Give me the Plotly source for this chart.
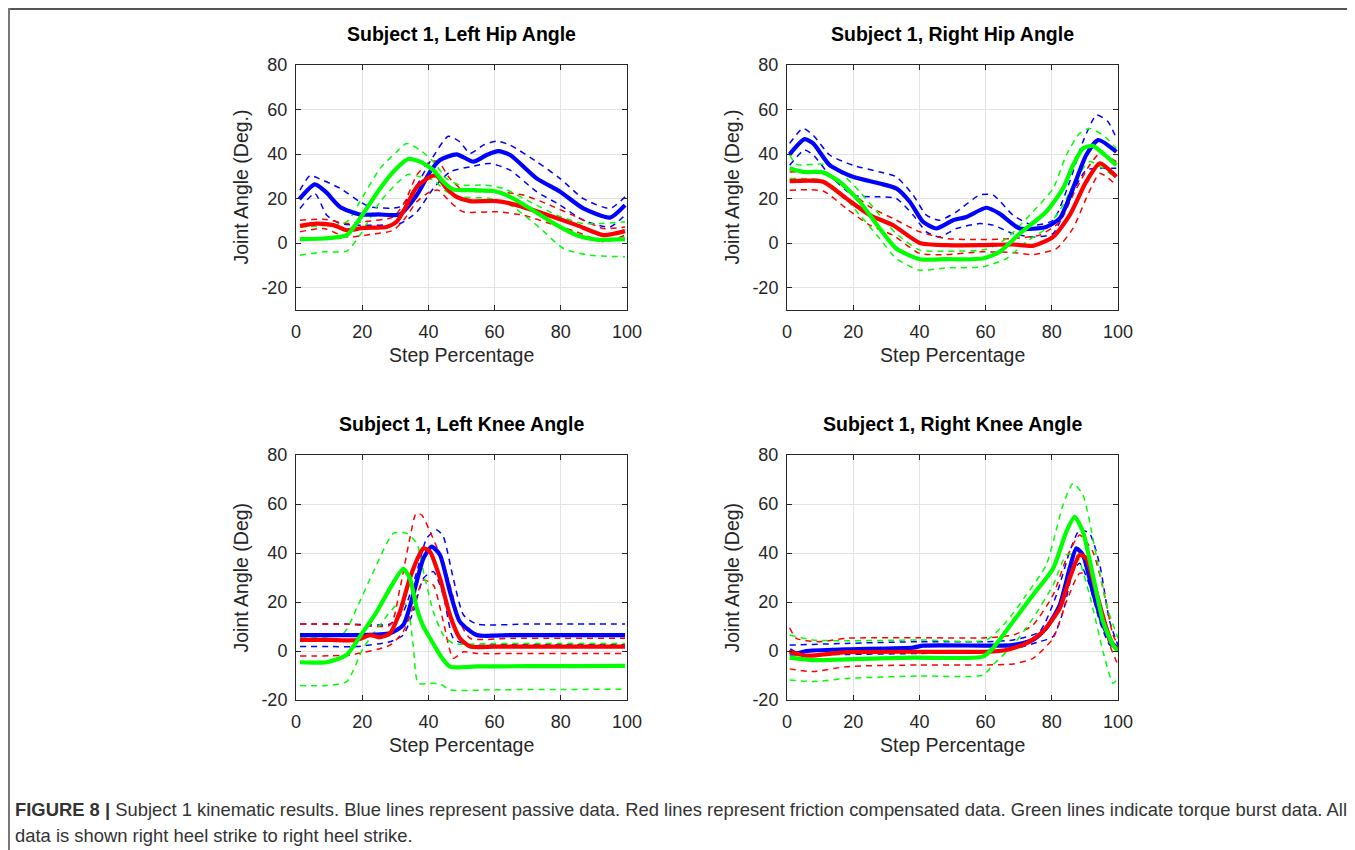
import plotly.graph_objects as go

# ---------------- data (x = step %, y = joint angle, deg) ----------------
# Left hip
LH_BLUE = [(1,19.8),(5.7,26.4),(9,23),(13.3,16.3),(19.3,12.9),(25,12.9),(31.4,12.9),(36.5,21.6),(40.5,32),(43.5,37.3),(48.5,39.9),(53.6,36.6),(57.6,39.6),(61.1,41.3),(64.7,39.6),(72.7,29.1),(79.8,23.1),(86.8,15.6),(94.9,11.5),(99.4,17.1)]
LH_BLUE_HI = [(1.2,23.8),(4.2,30.3),(7,29),(13.3,24.6),(19.3,18.6),(22.4,16.3),(31.4,16.3),(36.5,26),(40.5,36.6),(46,48),(49.5,45.5),(52.6,40.3),(56.6,44),(60.6,45.8),(64.7,44),(72.7,36.6),(79.8,29),(86.8,20),(94.9,15.6),(99.4,20.8)]
LH_BLUE_LO = [(1.2,15.6),(5.7,22.3),(9.3,12.5),(13.3,8.8),(19.3,8.1),(31.4,8.8),(36.5,14),(41.5,24.6),(46.5,32),(52.6,34.3),(58.6,35.8),(64.7,32.8),(72.7,23.1),(79.8,17.1),(86.8,10.3),(94.9,7.3),(99.4,12.6)]
LH_RED = [(1.2,7.8),(6.2,8.8),(11.3,8.1),(15.3,5.8),(20.3,6.9),(27.4,7.3),(30.4,9.6),(32.9,15.6),(36.5,25.3),(40.5,29.8),(42.5,30.3),(45.5,24.6),(48.5,20.8),(52.6,18.9),(60.6,18.9),(66.7,17.1),(74.7,13.3),(84.8,8.1),(92.9,3.6),(99.4,5.4)]
LH_RED_HI = [(1.2,10.3),(8.3,10.8),(15.3,8.8),(20.3,9.6),(29.4,11.8),(32.9,18.6),(36.5,30.6),(40.5,36.6),(43,36.6),(46.5,29),(50.5,23.8),(60.6,23.1),(68.7,21.6),(76.7,17.1),(84.8,11.8),(92.9,6.6),(99.4,7.3)]
LH_RED_LO = [(1.2,5.1),(8.3,6.6),(15.3,2.8),(22.4,3.9),(29.4,5.8),(32.9,11.1),(36.5,18.6),(40.5,23.1),(43,23.8),(46.5,18.6),(50.5,14.1),(60.6,14.1),(68.7,12.6),(76.7,8.8),(84.8,5.1),(92.9,0.6),(99.4,3.6)]
LH_GREEN = [(1.2,1.8),(8.3,2.1),(15.3,3.6),(19.3,11.1),(25.4,24.6),(30.4,33.6),(33.9,37.8),(37.5,36.6),(41.5,32.8),(44.5,27.6),(47.5,24.1),(53.6,23.8),(59.6,23.4),(64.7,20.8),(70.7,15.6),(78.8,8.1),(84.8,3.6),(90.8,1.6),(99.4,1.8)]
LH_GREEN_HI = [(1.2,7.3),(15.3,9.6),(19.3,18.6),(25.4,33.6),(30.4,41),(33.4,44.8),(37.5,41.8),(41.5,36.6),(45.5,29),(49.5,26.1),(56.6,26.1),(62.6,24.6),(70.7,18.6),(78.8,12.6),(86.8,8.8),(99.4,9.6)]
LH_GREEN_LO = [(1.2,-5.4),(8.3,-3.9),(15.3,-3.6),(19.3,3.6),(25.4,18.6),(30.4,26.8),(33.9,30.9),(37.5,29.8),(41.5,28.3),(45.5,23.1),(49.5,20.8),(58.6,20.1),(64.7,17.1),(72.7,8.1),(80.8,-2.4),(88.8,-5.4),(99.4,-6.1)]

# Right hip
RH_BLUE = [(0.8,39.9),(5.3,46.7),(7.9,44.8),(12.9,35),(19.9,29.8),(28,26.8),(33,24.6),(37.1,18.6),(41.1,9.6),(45.1,6.6),(50.2,10.3),(54.2,11.8),(60.2,15.9),(64.2,13.3),(70.3,6.6),(78.3,7.3),(82.4,11.1),(86.4,24.6),(90.4,39.6),(94,46.3),(99.5,41)]
RH_BLUE_HI = [(0.8,44.8),(4.8,51.5),(7.9,48.5),(12.9,39.6),(19.9,35),(28,32),(33,29.8),(38.1,21.6),(42.1,12.6),(46.1,10.3),(51.2,14.1),(58.2,21.6),(62.3,21.6),(68.3,12.6),(74.3,8.1),(80.4,10.3),(85.4,27.6),(89.4,45.5),(93.5,57.5),(97,54.5),(99.5,47)]
RH_BLUE_LO = [(0.8,35),(5.3,41.8),(7.9,39.6),(12.9,30.6),(19.9,21.6),(28,20.8),(33,20.1),(38.1,12.6),(42.1,5.1),(46.1,2.8),(51.2,6.6),(58.2,8.8),(62.3,8.1),(68.3,4.3),(74.3,2.8),(80.4,4.3),(85.4,20.1),(90.4,32.8),(94.5,33.6),(99.5,33.6)]
RH_RED = [(0.8,27.9),(10.9,27.6),(17.9,20.1),(25,12.6),(32,8.1),(40.1,0.1),(48.1,-0.9),(58.2,-0.9),(68.3,-0.6),(74.3,-1.2),(80.4,2.8),(85.4,12.6),(90.4,27.6),(94.5,35.8),(99.5,29.8)]
RH_RED_HI = [(0.8,32),(10.9,31.3),(17.9,24.6),(25,16.3),(32,11.1),(40.1,5.1),(48.1,2.1),(58.2,1.6),(68.3,2.1),(76.3,3.6),(82.4,9.6),(86.4,21.6),(91.4,35),(94.5,40.3),(99.5,36.6)]
RH_RED_LO = [(0.8,23.8),(10.9,23.4),(17.9,15.6),(25,8.1),(32,3.6),(40.1,-4.6),(48.1,-5.1),(58.2,-3.9),(68.3,-4.2),(74.3,-5.1),(81.4,-2.4),(86.4,6.6),(90.4,20.1),(94.5,31.3),(99.5,26.1)]
RH_GREEN = [(0.8,33.6),(4.8,32),(10.9,31.8),(15.9,27.6),(22,18.6),(28,6.6),(33,-2.4),(40.1,-7.2),(48.1,-7.2),(59.2,-6.9),(64.2,-3.9),(70.3,4.3),(78.3,14.1),(83.4,24.6),(86.4,35),(89.4,42.5),(92.4,43.7),(96,39.6),(99.5,35)]
RH_GREEN_HI = [(0.8,39.6),(2.8,35.4),(10.9,35.4),(15.9,32),(22,23.1),(28,12.6),(33,4.3),(40.1,-3.1),(48.1,-3.6),(60.2,-2.7),(66.3,2.1),(74.3,14.1),(80.4,24.6),(84.4,39.6),(88.4,49.3),(91.4,51.5),(95.5,48.5),(99.5,42.5)]
RH_GREEN_LO = [(0.8,29),(10.9,28.3),(15.9,23.1),(22,12.6),(28,2.1),(33,-6.9),(40.1,-12.1),(48.1,-11.1),(59.2,-10.6),(66.3,-6.9),(72.3,0.6),(78.3,6.6),(83.4,17.1),(87.4,29),(91.4,36.6),(95.5,33.6),(99.5,29)]

# Left knee
LK_BLUE = [(1.2,6.5),(10,6.5),(18.3,6.5),(28.4,7.2),(32.4,10.6),(35.4,22.9),(38.5,37.8),(41,42.6),(43.5,39.2),(46.5,24.2),(49.5,12),(54.6,6.5),(65,6.5),(80,6.5),(99.4,6.5)]
LK_BLUE_HI = [(1.2,11),(15,11),(28.4,11),(32.4,16),(36.5,32.4),(39.5,46),(42.5,49.4),(44.5,46.7),(47.5,29.7),(50.6,14.7),(54.6,11),(70,11),(85,11),(99.4,11)]
LK_BLUE_LO = [(1.2,1.8),(10,1.8),(18.3,1.8),(28.4,3.8),(32.4,6.5),(35.4,16),(38.5,29.7),(41.5,32.4),(44.5,22.9),(47.5,5.2),(51.6,2.6),(65,2.6),(80,2.6),(99.4,2.6)]
LK_RED = [(1.2,4.5),(10,4.5),(18.3,4.5),(22.4,6.5),(25.4,5.6),(28.4,7.2),(31.4,16),(34.4,29.7),(37.5,39.9),(38.5,41.9),(40.5,40.5),(43.5,29.7),(46.5,14.7),(49.5,5.2),(52.6,1.8),(60,1.8),(75,1.8),(99.4,1.8)]
LK_RED_HI = [(1.2,11),(15,11),(28.4,10.6),(31.4,25.6),(34.4,46),(36.3,56.2),(38,55.5),(40.5,48.7),(43.5,39.2),(46.5,26.9),(49.5,12),(52.6,5.2),(65,5.2),(80,5.2),(99.4,5.2)]
LK_RED_LO = [(1.2,-2),(16.3,-1.6),(28.4,2.4),(32.4,7.9),(35.4,18),(38.5,29),(41.5,26.9),(44.5,12),(47.5,-3),(50.6,-0.3),(54.6,-1),(70,-1),(85,-1),(99.4,-1)]
LK_GREEN = [(1.2,-4.6),(9.3,-4.6),(15.3,-1.6),(20.3,7.9),(24.4,16),(28.4,25.6),(32.4,33.5),(34.4,29.7),(36.5,17.4),(38.5,9.9),(40.5,5.2),(43.5,-1.6),(46.5,-6.4),(55,-6.3),(70,-6.2),(85,-6.2),(99.4,-6.1)]
LK_GREEN_HI = [(1.2,5.2),(14.3,7.2),(18.3,17.4),(23.4,32.4),(29.4,48),(33.4,48),(36.5,43.9),(38.5,32.4),(41.5,16),(44.5,6.5),(47.5,3.1),(60,3.1),(80,3.1),(99.4,3.1)]
LK_GREEN_LO = [(1.2,-14.1),(9.3,-14.1),(15.3,-12.5),(20.3,1.1),(25.4,10.6),(30.4,18.8),(33.4,19),(35.4,2.4),(36.9,-13.2),(40.5,-13.2),(43.5,-13.4),(46.5,-15.9),(60,-15.8),(80,-15.7),(99.4,-15.6)]

# Right knee
RK_BLUE = [(0.8,0.4),(2.8,-1),(5.8,0),(17.9,0.7),(38.1,1.4),(41.1,2.2),(60.2,2.2),(68.3,2.4),(74.3,4.5),(78.3,9.3),(82.4,18.8),(85.4,33.7),(87.4,41.9),(89.4,39.2),(92.4,24.2),(95.5,10.6),(98.5,2.7),(100,1.1)]
RK_BLUE_HI = [(0.8,2.4),(17.9,3.1),(40.1,3.8),(60.2,3.8),(68.3,4.5),(76.3,7.9),(81.4,22.9),(85.4,40.5),(88.4,49.4),(91.4,48),(94.5,35.1),(97.5,12),(100,2.4)]
RK_BLUE_LO = [(0.8,-1.6),(17.9,-1.4),(40.1,-1),(60.2,-0.3),(68.3,0.8),(76.3,3.8),(80.4,5.9),(83.4,16),(86.4,32.4),(88.4,35.8),(91.4,26.9),(94.5,12),(97.5,2.4),(100,0.4)]
RK_RED = [(0.8,-0.3),(5.8,-1.9),(17.9,-0.5),(38.1,-0.3),(60.2,-0.3),(66.3,0.4),(72.3,3.1),(77.3,7.9),(82.4,17.4),(85.4,29.7),(88.4,39.2),(90.4,37.8),(93.4,24.2),(96.5,9.3),(98.5,2.4),(100,0.8)]
RK_RED_HI = [(0.8,9.5),(2.8,5.2),(9.9,3.8),(17.9,5.2),(40.1,5.4),(60.2,5.4),(68.3,6.5),(74.3,10.6),(80.4,22.9),(84.4,37.8),(88.4,47.3),(92.4,40.5),(95.5,25.6),(98.5,6.5),(100,2.4)]
RK_RED_LO = [(0.8,-7.3),(7.9,-8.4),(17.9,-6.4),(40.1,-5.7),(60.2,-5.7),(68.3,-5.3),(74.3,-3),(80.4,5.2),(84.4,20.1),(88.4,31.7),(91.4,31),(94.5,16),(97.5,2.4),(100,-5.7)]
RK_GREEN = [(0.8,-2.7),(7.9,-3.7),(17.9,-3.4),(38.1,-2.7),(59.2,-2.3),(62.2,1.1),(68.3,12),(74.3,22.9),(80.4,33.7),(84.4,48.7),(86.9,54.8),(89.4,48.7),(92.4,31),(95.5,12),(98.5,2.4),(100,0)]
RK_GREEN_HI = [(0.8,6.5),(7.9,4.5),(17.9,4.2),(40.1,4.5),(60.2,4.5),(66.3,12),(72.3,22.9),(78.3,35.1),(83.4,59.6),(86.4,68.4),(89.4,63.7),(93.4,39.2),(96.5,18.8),(100,5.2)]
RK_GREEN_LO = [(0.8,-11.8),(7.9,-12.5),(17.9,-11.2),(40.1,-10.2),(59.2,-9.8),(62.2,-5.7),(68.3,2.4),(74.3,13.3),(80.4,26.9),(84.4,39.2),(87.4,39.2),(91.4,22.9),(95.5,-0.3),(98.5,-13.2),(100,-11.2)]

TITLES = ["Subject 1, Left Hip Angle", "Subject 1, Right Hip Angle",
          "Subject 1, Left Knee Angle", "Subject 1, Right Knee Angle"]
YLABELS = ["Joint Angle (Deg.)", "Joint Angle (Deg.)", "Joint Angle (Deg)", "Joint Angle (Deg)"]
XLABEL = "Step Percentage"
X_TICKS = [0, 20, 40, 60, 80, 100]
X_TICKTEXT = ["0", "20", "40", "60", "80", "100"]
Y_TICKS = [-20, 0, 20, 40, 60, 80]
Y_TICKTEXT = ["-20", "0", "20", "40", "60", "80"]
CAPTION_BOLD = "FIGURE 8 |"
CAPTION_1 = (" Subject 1 kinematic results. Blue lines represent passive data. Red lines represent "
             "friction compensated data. Green lines indicate torque burst data. All")
CAPTION_2 = "data is shown right heel strike to right heel strike."

PANELS = [
    [LH_BLUE, LH_BLUE_HI, LH_BLUE_LO, LH_RED, LH_RED_HI, LH_RED_LO, LH_GREEN, LH_GREEN_HI, LH_GREEN_LO],
    [RH_BLUE, RH_BLUE_HI, RH_BLUE_LO, RH_RED, RH_RED_HI, RH_RED_LO, RH_GREEN, RH_GREEN_HI, RH_GREEN_LO],
    [LK_BLUE, LK_BLUE_HI, LK_BLUE_LO, LK_RED, LK_RED_HI, LK_RED_LO, LK_GREEN, LK_GREEN_HI, LK_GREEN_LO],
    [RK_BLUE, RK_BLUE_HI, RK_BLUE_LO, RK_RED, RK_RED_HI, RK_RED_LO, RK_GREEN, RK_GREEN_HI, RK_GREEN_LO],
]

# ---------------- layout (page-pixel geometry) ----------------
W, H = 1355, 850
OFF = 8  # page body margin in front of the figure
BOX = [  # left, right, top, bottom (page px)
    (296, 627, 65, 310),
    (787, 1118, 65, 310),
    (296, 627, 455, 700),
    (787, 1118, 455, 700),
]
YRANGES = [[-30, 80], [-30, 80], [-20, 80], [-20, 80]]
COLORS = ["#0000ff", "#ff0000", "#00ff00"]
FONT = "Liberation Sans, Arial, Helvetica, sans-serif"
AXC = "#262626"

def px(x):
    return (x - OFF) / W

def py(y):
    return 1 - (y - OFF) / H

fig = go.Figure()
layout = dict(
    width=W, height=H, autosize=False,
    margin=dict(l=0, r=0, t=0, b=0, pad=0, autoexpand=False),
    paper_bgcolor="white", plot_bgcolor="white", showlegend=False,
    font=dict(family=FONT, color=AXC),
)
annotations = []
shapes = []

for i, series in enumerate(PANELS):
    n = i + 1
    xa = "x" if n == 1 else f"x{n}"
    ya = "y" if n == 1 else f"y{n}"
    order = [1, 2, 4, 5, 7, 8, 0, 3, 6]
    for k in order:
        pts = series[k]
        color = COLORS[k // 3]
        solid = (k % 3 == 0)
        fig.add_trace(go.Scatter(
            x=[p[0] for p in pts], y=[p[1] for p in pts],
            mode="lines", xaxis=xa, yaxis=ya,
            line=dict(color=color, width=4.2 if solid else 1.5,
                      dash="solid" if solid else "6px,5px",
                      shape="spline", smoothing=0.6),
            hoverinfo="skip",
        ))
    l, r, t, b = BOX[i]
    xkey = "xaxis" if n == 1 else f"xaxis{n}"
    ykey = "yaxis" if n == 1 else f"yaxis{n}"
    layout[xkey] = dict(
        domain=[px(l), px(r)], anchor=ya, range=[0, 100], automargin=False,
        tickvals=X_TICKS, ticktext=X_TICKTEXT, ticks="inside", ticklen=5, tickcolor=AXC,
        showline=True, linecolor=AXC, linewidth=1, mirror="ticks",
        showgrid=True, gridcolor="#e3e3e3", gridwidth=1, zeroline=False,
        tickfont=dict(size=18, color=AXC, family=FONT), ticklabelstandoff=5,
    )
    layout[ykey] = dict(
        domain=[py(b), py(t)], anchor=xa, range=YRANGES[i], automargin=False,
        tickvals=Y_TICKS, ticktext=Y_TICKTEXT, ticks="inside", ticklen=5, tickcolor=AXC,
        showline=True, linecolor=AXC, linewidth=1, mirror="ticks",
        showgrid=True, gridcolor="#e3e3e3", gridwidth=1, zeroline=False,
        tickfont=dict(size=18, color=AXC, family=FONT), ticklabelstandoff=4,
    )
    cx = (l + r) / 2
    cy = (t + b) / 2
    annotations.append(dict(text=f"<b>{TITLES[i]}</b>", x=px(cx), y=py(t - 31),
                            xref="paper", yref="paper", showarrow=False,
                            xanchor="center", yanchor="middle",
                            font=dict(size=19.5, color="#000000", family=FONT)))
    annotations.append(dict(text=XLABEL, x=px(cx), y=py(b + 45),
                            xref="paper", yref="paper", showarrow=False,
                            xanchor="center", yanchor="middle",
                            font=dict(size=19.5, color=AXC, family=FONT)))
    annotations.append(dict(text=YLABELS[i], x=px(l - 56), y=py(cy),
                            xref="paper", yref="paper", showarrow=False,
                            xanchor="center", yanchor="middle", textangle=-90,
                            font=dict(size=19.5, color=AXC, family=FONT)))

# caption
annotations.append(dict(
    text=f"<b>{CAPTION_BOLD}</b>{CAPTION_1}", x=px(13), y=py(809),
    xref="paper", yref="paper", showarrow=False, xanchor="left", yanchor="middle",
    font=dict(size=18.4, color="#333333", family=FONT)))
annotations.append(dict(
    text=CAPTION_2, x=px(13), y=py(835),
    xref="paper", yref="paper", showarrow=False, xanchor="left", yanchor="middle",
    font=dict(size=18.4, color="#333333", family=FONT)))

# outer frame (top and left rules), kept just inside the figure
shapes.append(dict(type="line", xref="paper", yref="paper",
                   x0=0, x1=1, y0=1 - 1.0 / H, y1=1 - 1.0 / H,
                   line=dict(color="#555555", width=2)))
shapes.append(dict(type="line", xref="paper", yref="paper",
                   x0=1.0 / W, x1=1.0 / W, y0=1, y1=0,
                   line=dict(color="#777777", width=2)))

layout["annotations"] = annotations
layout["shapes"] = shapes
fig.update_layout(**layout)
fig.write_html("out.html")
